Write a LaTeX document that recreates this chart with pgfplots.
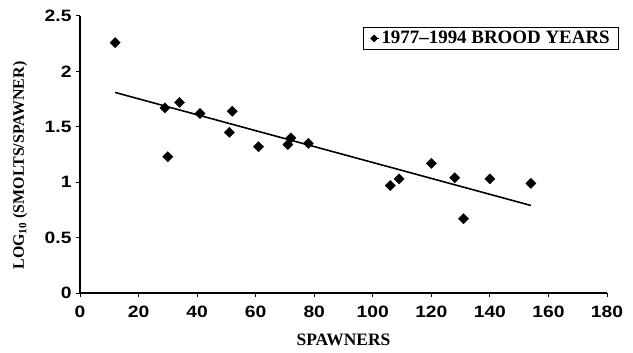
\documentclass[border=0pt]{standalone}
\usepackage{fontspec}
\setmainfont{Liberation Serif}
\setsansfont{Liberation Sans}
\usepackage{pgfplots}
\pgfplotsset{compat=1.18}
\begin{document}
\begin{tikzpicture}[x=1bp,y=1bp]
\path[use as bounding box] (0,0) rectangle (633bp,353bp);
\begin{axis}[
  at={(80bp,60bp)}, anchor=south west,
  scale only axis, width=527bp, height=277bp,
  xmin=0, xmax=180, ymin=0, ymax=2.5,
  xtick={0,20,...,180}, ytick={0,0.5,1,1.5,2,2.5},
  axis x line*=bottom, axis y line*=left,
  axis line style={line width=1.2pt},
  tick style={line width=1pt, black},
  tick align=outside, major tick length=4bp,
  /pgf/number format/assume math mode=true,
  tick label style={font=\sffamily\bfseries\fontsize{16.5}{17}\selectfont\addfontfeature{FakeStretch=1.17}},
  xticklabel style={yshift=-6bp},
  yticklabel style={xshift=-1bp},
  xlabel={\textbf{SPAWNERS}},
  ylabel={\textbf{LOG\textsubscript{10} (SMOLTS/SPAWNER)}},
  xlabel style={font=\fontsize{17.5}{18}\selectfont, at={(rel axis cs:0.5,-0.17)}, anchor=center},
  ylabel style={font=\fontsize{16}{17}\selectfont, at={(rel axis cs:-0.114,0.46)}, anchor=center},
  legend style={at={(1.023,0.96)}, anchor=north east, draw=black, line width=0.8pt,
    font=\bfseries\fontsize{19}{20}\selectfont, inner xsep=7bp, inner ysep=2bp,
    legend cell align=left},
  legend image code/.code={\path (0bp,0bp) -- (8bp,0bp);
    \draw[mark options={rotate=45, scale=0.65, fill=black}] plot coordinates {(3bp,0bp)};},
  clip=false,
]
\addplot[only marks, mark=square*, mark size=3.6bp, mark options={rotate=45, fill=black, draw=black}] coordinates {
(12,2.26) (29,1.67) (30,1.23) (34,1.72) (41,1.62) (51,1.45) (52,1.64) (61,1.32)
(71,1.34) (72,1.40) (78,1.35) (106,0.97) (109,1.03) (120,1.17) (128,1.04)
(131,0.67) (140,1.03) (154,0.99)
};
\addlegendentry{1977--1994 BROOD YEARS}
\addplot[black, line width=1.6pt, forget plot] coordinates {(12,1.81) (154,0.79)};
\end{axis}
\end{tikzpicture}
\end{document}
